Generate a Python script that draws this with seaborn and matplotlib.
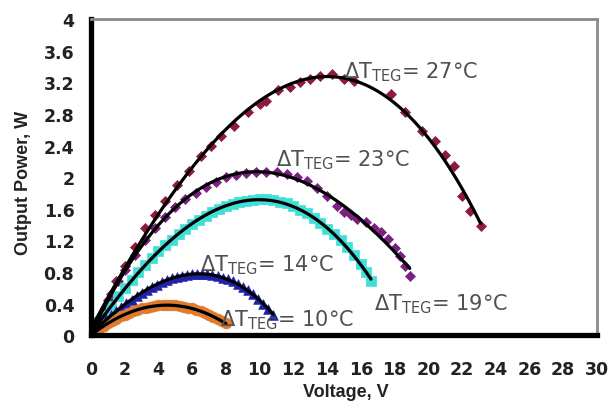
import numpy as np
import pandas as pd
import matplotlib
matplotlib.use("Agg")
import matplotlib.pyplot as plt
from matplotlib.ticker import FuncFormatter
import seaborn as sns

sns.set_style("white")
plt.rcParams['font.family'] = ['DejaVu Sans']
plt.rcParams['mathtext.fontset'] = 'dejavusans'

# ---- data ----
V27 = [0.0, 0.5, 1.0, 1.5, 2.0, 2.6, 3.2, 3.8, 4.4, 5.1, 5.8, 6.5, 7.1, 7.7, 8.5, 9.3,
       10.0, 10.4, 11.1, 11.8, 12.4, 13.0, 13.6, 14.3, 15.0, 15.6, 17.8, 18.6, 19.6,
       20.4, 21.0, 21.5, 22.0, 22.5, 23.1]
P27 = [0.0, 0.22, 0.45, 0.68, 0.88, 1.12, 1.36, 1.52, 1.70, 1.90, 2.08, 2.27, 2.40,
       2.52, 2.65, 2.82, 2.92, 2.96, 3.10, 3.14, 3.20, 3.24, 3.28, 3.30, 3.24, 3.22,
       3.05, 2.82, 2.59, 2.46, 2.28, 2.14, 1.76, 1.57, 1.38]

V23 = [0.0, 0.4, 0.8, 1.2, 1.6, 2.0, 2.6, 3.2, 3.8, 4.4, 5.0, 5.6, 6.2, 6.8, 7.4, 8.0,
       8.6, 9.2, 9.8, 10.4, 11.0, 11.6, 12.2, 12.8, 13.4, 14.0, 14.6, 15.0, 15.4, 15.8,
       16.3, 16.8, 17.2, 17.6, 18.0, 18.3, 18.6, 18.9]
P23 = [0.0, 0.18, 0.35, 0.52, 0.68, 0.82, 1.02, 1.20, 1.36, 1.50, 1.62, 1.72, 1.80,
       1.88, 1.94, 2.00, 2.03, 2.05, 2.07, 2.07, 2.06, 2.04, 2.00, 1.95, 1.86, 1.76,
       1.64, 1.56, 1.52, 1.47, 1.43, 1.36, 1.30, 1.22, 1.10, 1.00, 0.88, 0.75]

V19 = [0.0, 0.4, 0.8, 1.2, 1.6, 2.0, 2.4, 2.8, 3.2, 3.6, 4.0, 4.4, 4.8, 5.2, 5.6, 6.0,
       6.4, 6.8, 7.2, 7.6, 8.0, 8.4, 8.8, 9.2, 9.6, 10.0, 10.4, 10.8, 11.2, 11.6, 12.0,
       12.4, 12.8, 13.2, 13.6, 14.0, 14.4, 14.8, 15.2, 15.6, 16.0, 16.3, 16.6]
P19 = [0.0, 0.13, 0.25, 0.37, 0.49, 0.60, 0.70, 0.80, 0.89, 0.98, 1.06, 1.14, 1.21,
       1.28, 1.35, 1.41, 1.46, 1.51, 1.56, 1.60, 1.63, 1.66, 1.68, 1.70, 1.71, 1.72,
       1.72, 1.71, 1.69, 1.67, 1.63, 1.59, 1.54, 1.48, 1.42, 1.35, 1.28, 1.20, 1.11,
       1.01, 0.90, 0.80, 0.69]

V14 = [0.0, 0.3, 0.6, 0.9, 1.2, 1.5, 1.8, 2.1, 2.4, 2.7, 3.0, 3.3, 3.6, 3.9, 4.2, 4.5,
       4.8, 5.1, 5.4, 5.7, 6.0, 6.3, 6.6, 6.9, 7.2, 7.5, 7.8, 8.1, 8.4, 8.7, 9.0, 9.3,
       9.6, 9.9, 10.2, 10.5, 10.8]
P14 = [0.00, 0.07, 0.14, 0.20, 0.26, 0.31, 0.36, 0.41, 0.45, 0.50, 0.54, 0.57, 0.61,
       0.64, 0.67, 0.70, 0.72, 0.74, 0.75, 0.76, 0.77, 0.77, 0.77, 0.77, 0.76, 0.75,
       0.73, 0.71, 0.68, 0.65, 0.61, 0.57, 0.52, 0.46, 0.40, 0.33, 0.26]

V10 = [0.0, 0.25, 0.5, 0.75, 1.0, 1.25, 1.5, 1.75, 2.0, 2.25, 2.5, 2.75, 3.0, 3.25, 3.5,
       3.75, 4.0, 4.25, 4.5, 4.75, 5.0, 5.25, 5.5, 5.75, 6.0, 6.25, 6.5, 6.75, 7.0, 7.25,
       7.5, 7.75, 8.0]
P10 = [0.00, 0.04, 0.08, 0.12, 0.15, 0.18, 0.21, 0.24, 0.26, 0.28, 0.30, 0.32, 0.34,
       0.35, 0.36, 0.37, 0.38, 0.38, 0.38, 0.38, 0.38, 0.37, 0.36, 0.35, 0.34, 0.32,
       0.30, 0.28, 0.26, 0.23, 0.21, 0.18, 0.15]

series_labels = ["27", "23", "19", "14", "10"]
x_ticks = list(range(0, 31, 2))
y_ticks = [0, 0.4, 0.8, 1.2, 1.6, 2, 2.4, 2.8, 3.2, 3.6, 4]

# annotation anchors (V, P) — left edge / vertical centre of each label
label_pos = {"27": (15.0, 3.34), "23": (10.95, 2.23), "19": (16.8, 0.40),
             "14": (6.45, 0.90), "10": (7.65, 0.20)}

# ---- styling ----
styles = {
    "27": dict(marker="D", color="#8e1b3e", s=26),
    "23": dict(marker="D", color="#7b2183", s=26),
    "19": dict(marker="s", color="#3fe0d8", s=48),
    "14": dict(marker="^", color="#1f22a8", s=48),
    "10": dict(marker="o", color="#e07a2e", s=60),
}

data = {"27": (V27, P27), "23": (V23, P23), "19": (V19, P19),
        "14": (V14, P14), "10": (V10, P10)}

fig = plt.figure(figsize=(6.11, 4.10), dpi=100)
ax = fig.add_axes([0.149, 0.180, 0.828, 0.771])

for key in series_labels:
    v, p = data[key]
    df = pd.DataFrame({"V": v, "P": p})
    st = styles[key]
    sns.scatterplot(data=df, x="V", y="P", ax=ax, marker=st["marker"],
                    color=st["color"], s=st["s"], edgecolor=st["color"],
                    linewidth=0.5, zorder=2)
for key in series_labels:
    v, p = data[key]
    df = pd.DataFrame({"V": v, "P": p})
    sns.regplot(data=df, x="V", y="P", ax=ax, order=3, scatter=False, ci=None,
                truncate=True, line_kws=dict(color="black", lw=2.3, zorder=3))

for key in series_labels:
    x, y = label_pos[key]
    ax.text(x, y, r"$\Delta$T$_{\mathregular{TEG}}$= " + key + "\u00b0C",
            fontsize=15, color="#505050", ha="left", va="center", zorder=4)

ax.set_xlim(0, 30)
ax.set_ylim(0, 4)
ax.set_xticks(x_ticks)
ax.set_yticks(y_ticks)
ax.yaxis.set_major_formatter(FuncFormatter(lambda v, _: f"{v:g}"))
ax.tick_params(axis="both", direction="out", length=6, width=3.2, color="black",
               labelsize=12.5, labelcolor="#222222")
ax.tick_params(axis="x", pad=12)
ax.tick_params(axis="y", pad=6)
for lab in ax.get_xticklabels() + ax.get_yticklabels():
    lab.set_fontweight("bold")

ax.set_xlabel("Voltage, V", fontsize=13, fontweight="bold", color="#222222",
              family="Liberation Sans")
ax.set_ylabel("Output Power, W", fontsize=13, fontweight="bold", color="#222222",
              family="Liberation Sans")
ax.xaxis.set_label_coords(0.503, -0.15)
ax.yaxis.set_label_coords(-0.117, 0.484)

for side in ["left", "bottom"]:
    ax.spines[side].set_color("black")
    ax.spines[side].set_linewidth(3.8)
for side in ["top", "right"]:
    ax.spines[side].set_color("#8a8a8a")
    ax.spines[side].set_linewidth(2)
    ax.spines[side].set_visible(True)

fig.savefig("out.png", dpi=100)
